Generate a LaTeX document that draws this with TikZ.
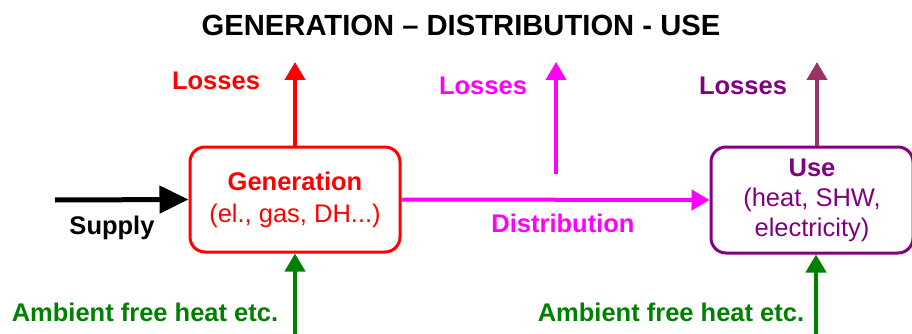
\documentclass[tikz,border=0pt]{standalone}
\usepackage{fontspec}
\setmainfont{Liberation Sans}
\usetikzlibrary{arrows.meta}
\definecolor{cred}{HTML}{FF0000}
\definecolor{cmag}{HTML}{FF00FF}
\definecolor{cpur}{HTML}{800080}
\definecolor{cmar}{HTML}{993366}
\definecolor{cgrn}{HTML}{008000}
\tikzset{
  lbl/.style={font=\fontsize{25.5}{30}\selectfont\bfseries, inner sep=0pt},
  procbox/.style={draw, line width=3pt, rounded corners=15pt, inner sep=0pt, align=center},
  flow/.style={line width=4pt, -{Triangle[length=18pt,width=20pt]}},
}
\begin{document}
\begin{tikzpicture}[x=1pt,y=-1pt]
\useasboundingbox (0,0) rectangle (912,334);
% title
\node[font=\fontsize{29.2}{34}\selectfont\bfseries, inner sep=0pt] (title) at (461,25) {GENERATION – DISTRIBUTION - USE};
% boxes
\node[procbox, draw=cred, text=cred, minimum width=210pt, minimum height=105pt,
      font=\fontsize{25.5}{32}\selectfont] (gen) at (295,199.5)
      {\textbf{Generation}\\(el., gas, DH...)};
\node[procbox, draw=cpur, text=cpur, minimum width=202pt, minimum height=106pt,
      font=\fontsize{25.5}{30}\selectfont] (use) at (812,200)
      {\textbf{Use}\\(heat, SHW,\\electricity)};
% coordinates for free ends
\coordinate (sup) at (55,200);
\coordinate (lg) at (295,62);
\coordinate (ldb) at (556,174);
\coordinate (ldt) at (556,62);
\coordinate (lu) at (817,62);
\coordinate (ag) at (295,334);
\coordinate (au) at (816,334);
% connectors
\draw[line width=5pt, -{Triangle[length=29pt,width=27pt]}] (sup) -- (gen.west);
\draw[flow, cmag] (gen.east) -- (use.west);
\draw[flow, cred] (gen.north -| lg) -- (lg);
\draw[flow, cmag] (ldb) -- (ldt);
\draw[flow, cmar] (lu |- use.north) -- (lu);
\draw[flow, cgrn] (ag) -- (ag |- gen.south);
\draw[flow, cgrn] (au) -- (au |- use.south);
% labels
\node[lbl, text=cred] (l1) at (216,81) {Losses};
\node[lbl, text=cmag] (l2) at (483,86) {Losses};
\node[lbl, text=cpur] (l3) at (743,86) {Losses};
\node[lbl] (supply) at (112,228) {Supply};
\node[lbl, text=cmag] (dist) at (563,223) {Distribution};
\node[lbl, text=cgrn] (amb1) at (145,312) {Ambient free heat etc.};
\node[lbl, text=cgrn] (amb2) at (671,312) {Ambient free heat etc.};
\end{tikzpicture}
\end{document}
